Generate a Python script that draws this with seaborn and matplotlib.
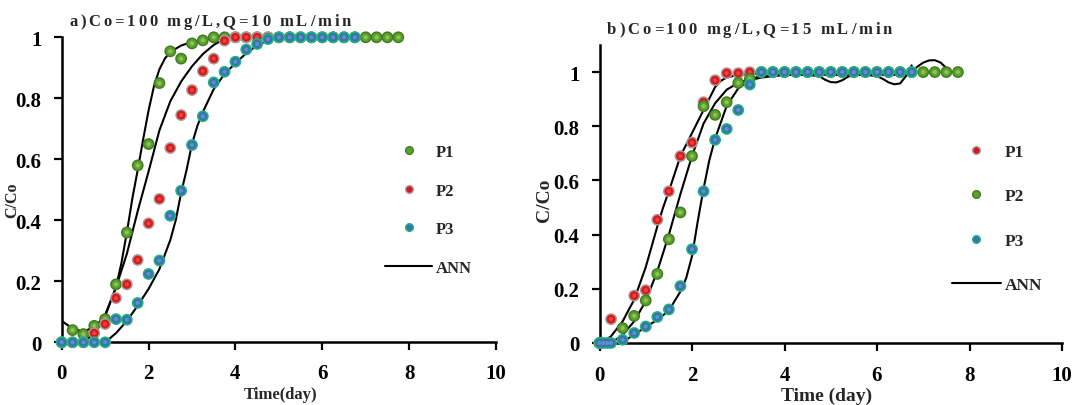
import numpy as np
import pandas as pd
import seaborn as sns
import matplotlib
matplotlib.use("Agg")
import matplotlib.pyplot as plt
from matplotlib.lines import Line2D
from matplotlib.ticker import FuncFormatter, MultipleLocator

# ---------------- data ----------------
# (a) Co = 100 mg/L, Q = 10 mL/min
a_p1_t = np.arange(0, 8.0, 0.25)
a_p1_c = [0.0, 0.04, 0.027, 0.054, 0.076, 0.19, 0.36, 0.58, 0.65, 0.85, 0.954, 0.93,
          0.98, 0.99, 1.0, 1.0, 1.0, 1.0, 1.0, 1.0, 1.0, 1.0, 1.0, 1.0, 1.0, 1.0,
          1.0, 1.0, 1.0, 1.0, 1.0, 1.0]
a_p2_t = np.arange(0, 5.0, 0.25)
a_p2_c = [0.0, 0.0, 0.0, 0.03, 0.06, 0.145, 0.19, 0.27, 0.39, 0.47, 0.637, 0.745,
          0.827, 0.889, 0.93, 0.989, 1.0, 1.0, 1.0, 1.0]
a_p3_t = np.arange(0, 7.0, 0.25)
a_p3_c = [0.0, 0.0, 0.0, 0.0, 0.0, 0.076, 0.074, 0.129, 0.224, 0.268, 0.415, 0.497,
          0.647, 0.741, 0.852, 0.887, 0.92, 0.96, 0.978, 0.994, 1.0, 1.0, 1.0, 1.0,
          1.0, 1.0, 1.0, 1.0]

a_ann1_t = [0, 0.25, 0.5, 0.75, 1.0, 1.25, 1.375, 1.5, 1.625, 1.75, 1.875, 2.0, 2.125,
            2.25, 2.375, 2.5, 2.75, 3.0, 3.25, 3.5, 3.75, 4.0, 5.0, 6.0, 7.0, 7.75]
a_ann1_c = [0.07, 0.045, 0.035, 0.05, 0.085, 0.18, 0.26, 0.36, 0.47, 0.565, 0.665, 0.76,
            0.84, 0.895, 0.93, 0.952, 0.973, 0.985, 0.992, 0.997, 1.0, 1.0, 1.0, 1.0,
            1.0, 1.0]
a_ann2_t = [0.5, 0.75, 1.0, 1.25, 1.5, 1.75, 2.0, 2.25, 2.5, 2.75, 3.0, 3.25, 3.5, 3.75,
            4.0, 4.75]
a_ann2_c = [0.0, 0.03, 0.09, 0.18, 0.29, 0.43, 0.56, 0.695, 0.79, 0.855, 0.905, 0.945,
            0.975, 0.995, 1.0, 1.0]
a_ann3_t = [1.0, 1.25, 1.5, 1.75, 2.0, 2.25, 2.5, 2.625, 2.75, 2.875, 3.0, 3.125, 3.25,
            3.5, 3.75, 4.0, 4.25, 4.5, 4.75, 5.0, 6.75]
a_ann3_c = [0.0, 0.03, 0.07, 0.12, 0.175, 0.24, 0.335, 0.40, 0.49, 0.565, 0.65, 0.71,
            0.755, 0.83, 0.88, 0.915, 0.948, 0.973, 0.99, 1.0, 1.0]

# (b) Co = 100 mg/L, Q = 15 mL/min
b_p1_t = [0, 0.25, 0.75, 1.0, 1.25, 1.5, 1.75, 2.0, 2.25, 2.5, 2.75, 3.0, 3.25]
b_p1_c = [0.0, 0.088, 0.175, 0.195, 0.455, 0.56, 0.69, 0.74, 0.889, 0.97, 0.996, 0.996,
          1.0]
b_p2_t = np.concatenate([[0.0], np.arange(0.5, 8.0, 0.25)])
b_p2_c = [0.0, 0.055, 0.1, 0.157, 0.255, 0.383, 0.482, 0.69, 0.874, 0.842, 0.889, 0.96,
          0.975, 1.0, 1.0, 1.0, 1.0, 1.0, 1.0, 1.0, 1.0, 1.0, 1.0, 1.0, 1.0, 1.0, 1.0,
          1.0, 1.0, 1.0, 1.0]
b_p3_t = np.concatenate([[0.0, 0.083, 0.167, 0.25], np.arange(0.5, 7.0, 0.25)])
b_p3_c = [0.0, 0.0, 0.0, 0.0, 0.012, 0.037, 0.061, 0.096, 0.124, 0.21, 0.346, 0.56,
          0.75, 0.79, 0.86, 0.954, 1.0, 1.0, 1.0, 1.0, 1.0, 1.0, 1.0, 1.0, 1.0, 1.0,
          1.0, 1.0, 1.0, 1.0]

b_ann1_t = [0, 0.125, 0.25, 0.5, 0.75, 1.0, 1.125, 1.25, 1.375, 1.5, 1.75, 2.0, 2.25,
            2.5, 2.625, 2.75, 3.0, 3.25, 3.5]
b_ann1_c = [0.0, 0.01, 0.025, 0.08, 0.16, 0.28, 0.355, 0.43, 0.5, 0.56, 0.69, 0.775,
            0.86, 0.945, 0.968, 0.98, 0.99, 0.993, 0.995]
b_ann2_t = [0.25, 0.5, 0.75, 1.0, 1.25, 1.5, 1.75, 2.0, 2.25, 2.5, 2.75, 3.0, 3.25, 3.5,
            4.0, 5.0, 6.0, 6.5, 6.75, 6.875, 7.0, 7.125, 7.25, 7.375, 7.5]
b_ann2_c = [0.0, 0.03, 0.08, 0.155, 0.265, 0.40, 0.55, 0.69, 0.81, 0.885, 0.935, 0.96,
            0.975, 0.985, 0.99, 0.99, 0.99, 0.99, 1.0, 1.02, 1.035, 1.043, 1.044, 1.035,
            1.015]
b_ann3_t = [0.5, 0.75, 1.0, 1.25, 1.5, 1.75, 1.875, 2.0, 2.125, 2.25, 2.375, 2.5, 2.75,
            3.0, 3.25, 3.5, 3.75, 4.0, 4.5, 4.75, 4.875, 5.0, 5.125, 5.25, 5.375, 5.5,
            5.75, 6.0, 6.125, 6.25, 6.375, 6.5, 6.625, 6.75]
b_ann3_c = [0.005, 0.03, 0.06, 0.085, 0.12, 0.19, 0.24, 0.32, 0.45, 0.57, 0.675, 0.755,
            0.875, 0.94, 0.97, 0.98, 0.985, 0.99, 0.99, 0.985, 0.972, 0.963, 0.962, 0.97,
            0.983, 0.99, 0.99, 0.985, 0.975, 0.962, 0.955, 0.958, 0.985, 1.025]

series_labels = ["P1", "P2", "P3"]

# sphere-like marker colours: (rim, body, highlight)
GREEN = ("#3f7d1e", "#5f9f30", "#8cc45a")
RED = ("#a89a9a", "#d8191c", "#f0403a")
TEAL = ("#1fb57a", "#3a72b0", "#5a92c8")

# ---------------- style ----------------
sns.set_style("ticks")
plt.rcParams["font.family"] = ["Liberation Serif", "DejaVu Serif"]
plt.rcParams["font.weight"] = "bold"
plt.rcParams["axes.labelweight"] = "bold"

W, H = 1074, 406
fig = plt.figure(figsize=(W / 100, H / 100), dpi=100)
ax_a = fig.add_axes([61.7 / W, (H - 343.3) / H, 434.3 / W, 305 / H])
ax_b = fig.add_axes([599.5 / W, (H - 344) / H, 462.5 / W, 298 / H])


def balls(ax, t, c, colors, z):
    df = pd.DataFrame({"t": t, "c": c})
    rim, body, hi = colors
    for s, col, dz in ((72, rim, 0.0), (40, body, 0.1), (9, hi, 0.2)):
        sns.scatterplot(data=df, x="t", y="c", s=s, color=col, edgecolor="none",
                        linewidth=0, ax=ax, clip_on=False, zorder=z + dz, legend=False)


def ann(ax, t, c):
    df = pd.DataFrame({"t": t, "c": c})
    sns.lineplot(data=df, x="t", y="c", color="black", lw=1.5, sort=False,
                 estimator=None, ax=ax, zorder=2, legend=False)


def style_axes(ax, ymax, fs, xpad, ypad):
    ax.set_xlim(0, 10)
    ax.set_ylim(0, ymax)
    ax.xaxis.set_major_locator(MultipleLocator(2))
    ax.yaxis.set_major_locator(MultipleLocator(0.2))
    ax.yaxis.set_major_formatter(FuncFormatter(lambda v, p: f"{v:g}"))
    ax.xaxis.set_major_formatter(FuncFormatter(lambda v, p: f"{v:g}"))
    for side in ("top", "right"):
        ax.spines[side].set_visible(False)
    for side in ("left", "bottom"):
        ax.spines[side].set_linewidth(1.8)
        ax.spines[side].set_color("black")
    ax.tick_params(axis="both", direction="out", length=6, width=1.6, colors="black",
                   labelsize=fs)
    ax.tick_params(axis="y", pad=ypad)
    ax.tick_params(axis="x", pad=xpad)
    for lab in ax.get_xticklabels() + ax.get_yticklabels():
        lab.set_fontweight("bold")


def legend(ax, colors, anchor, fs, spacing):
    handles = [Line2D([], [], ls="", marker="o", markersize=5.5, markerfacecolor=col[1],
                      markeredgecolor=col[0], markeredgewidth=1.0) for col in colors]
    handles.append(Line2D([], [], color="black", lw=1.5))
    ax.legend(handles, series_labels + ["ANN"], loc="upper left", bbox_to_anchor=anchor,
              frameon=False, handlelength=2.8, handletextpad=0.25,
              labelspacing=spacing, borderpad=0, borderaxespad=0,
              prop={"weight": "bold", "size": fs})


def spaced_title(x0, x1, baseline, text, size):
    renderer = fig.canvas.get_renderer()
    pieces, widths = [], []
    for ch in text:
        t = fig.text(0, 0, ch, fontsize=size, fontweight="bold", va="baseline",
                     ha="left")
        w = t.get_window_extent(renderer).width if ch != " " else size * 0.3
        pieces.append(t)
        widths.append(w)
    gap = (x1 - x0 - sum(widths)) / (len(text) - 1)
    cur = x0
    for t, w in zip(pieces, widths):
        t.set_position((cur / W, (H - baseline) / H))
        cur += w + gap


# ---------------- panel a ----------------
for t, c in ((a_ann1_t, a_ann1_c), (a_ann2_t, a_ann2_c), (a_ann3_t, a_ann3_c)):
    ann(ax_a, t, c)
balls(ax_a, a_p1_t, a_p1_c, GREEN, 3)
balls(ax_a, a_p2_t, a_p2_c, RED, 4)
balls(ax_a, a_p3_t, a_p3_c, TEAL, 5)
style_axes(ax_a, 1.0, 15, 9, 8.5)
ax_a.set_xlabel("Time(day)", fontsize=12, fontweight="bold")
ax_a.set_ylabel("C/Co", fontsize=11.5, fontweight="bold")
ax_a.xaxis.set_label_coords(0.503, -0.143)
ax_a.yaxis.set_label_coords(-0.095, 0.47)
legend(ax_a, (GREEN, RED, TEAL), (0.745, 0.65), 12, 1.35)

# ---------------- panel b ----------------
for t, c in ((b_ann1_t, b_ann1_c), (b_ann2_t, b_ann2_c), (b_ann3_t, b_ann3_c)):
    ann(ax_b, t, c)
balls(ax_b, b_p1_t, b_p1_c, RED, 3)
balls(ax_b, b_p2_t, b_p2_c, GREEN, 4)
balls(ax_b, b_p3_t, b_p3_c, TEAL, 5)
style_axes(ax_b, 1.1, 15, 9.5, 8.5)
ax_b.set_xlabel("Time (day)", fontsize=14, fontweight="bold")
ax_b.set_ylabel("C/Co", fontsize=14, fontweight="bold")
ax_b.xaxis.set_label_coords(0.49, -0.148)
ax_b.yaxis.set_label_coords(-0.1, 0.483)
legend(ax_b, (RED, GREEN, TEAL), (0.762, 0.668), 12.5, 1.62)

spaced_title(69, 351, 26, "a)Co=100 mg/L,Q=10 mL/min", 12)
spaced_title(607, 892, 34, "b)Co=100 mg/L,Q=15 mL/min", 12)

fig.savefig("out.png", dpi=100)
